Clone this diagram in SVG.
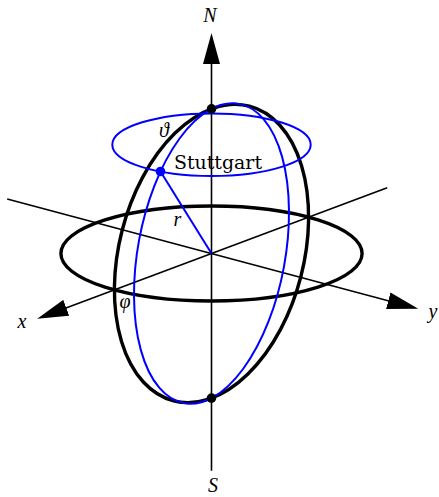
<svg xmlns="http://www.w3.org/2000/svg" width="439" height="497" viewBox="0 0 439 497">
<style>
.axis{stroke:#000;stroke-width:1.6;fill:none}
.thick{stroke:#000;stroke-width:3.4;fill:none}
.blue{stroke:#0000ff;stroke-width:2;fill:none}
.math{font-family:"Liberation Serif","DejaVu Serif",serif;font-style:italic;font-size:20px;fill:#000}
.lbl{font-family:"DejaVu Serif","Liberation Serif",serif;font-size:18.5px;fill:#000}
</style>
<defs>
<marker id="arr" markerUnits="userSpaceOnUse" viewBox="0 0 31 18" markerWidth="31" markerHeight="18" refX="26" refY="9" orient="auto">
<path d="M0,0.5 L31,9 L0,17.5 z" fill="#000"/>
</marker>
</defs>
<g id="connectors">
<line id="z-axis" class="axis" x1="211.5" y1="470.7" x2="211.5" y2="38" marker-end="url(#arr)"/>
<line id="x-axis" class="axis" x1="387.2" y1="187.8" x2="41.9" y2="316.9" marker-end="url(#arr)"/>
<line id="y-axis" class="axis" x1="7.2" y1="198.9" x2="413.4" y2="307.5" marker-end="url(#arr)"/>
</g>
<g id="sphere">
<ellipse id="equator" class="thick" cx="211.5" cy="253.5" rx="150.6" ry="47.5"/>
<ellipse id="meridian0" class="thick" cx="211.5" cy="253.5" rx="92.31" ry="152.1" transform="rotate(14.42 211.5 253.5)"/>
<ellipse id="meridian-stuttgart" class="blue" cx="211.5" cy="253.5" rx="73.66" ry="152.14" transform="rotate(10.43 211.5 253.5)"/>
<ellipse id="latitude" class="blue" cx="211.5" cy="144.7" rx="99.2" ry="31.3"/>
<line id="radius" class="blue" x1="211.5" y1="253.5" x2="160.5" y2="171.5"/>
</g>
<g id="north"><circle cx="211.5" cy="108.9" r="4.8" fill="#000"/><text class="math" x="210" y="22" text-anchor="middle">N</text></g>
<g id="south"><circle cx="211.5" cy="398.1" r="4.8" fill="#000"/><text class="math" x="213" y="492" text-anchor="middle">S</text></g>
<g id="stuttgart"><circle cx="160.5" cy="171.5" r="4.8" fill="#0000ff"/><text class="lbl" x="174" y="168.5" textLength="88" lengthAdjust="spacingAndGlyphs">Stuttgart</text></g>
<g id="labels">
<text class="math" x="22" y="327.5" text-anchor="middle">x</text>
<text class="math" x="433" y="317.5" text-anchor="middle">y</text>
<text class="math" x="177.5" y="226" text-anchor="middle">r</text>
<text class="math" x="125" y="307.5" text-anchor="middle">φ</text>
<text class="math" x="164" y="136.5" text-anchor="middle">ϑ</text>
</g>
</svg>
